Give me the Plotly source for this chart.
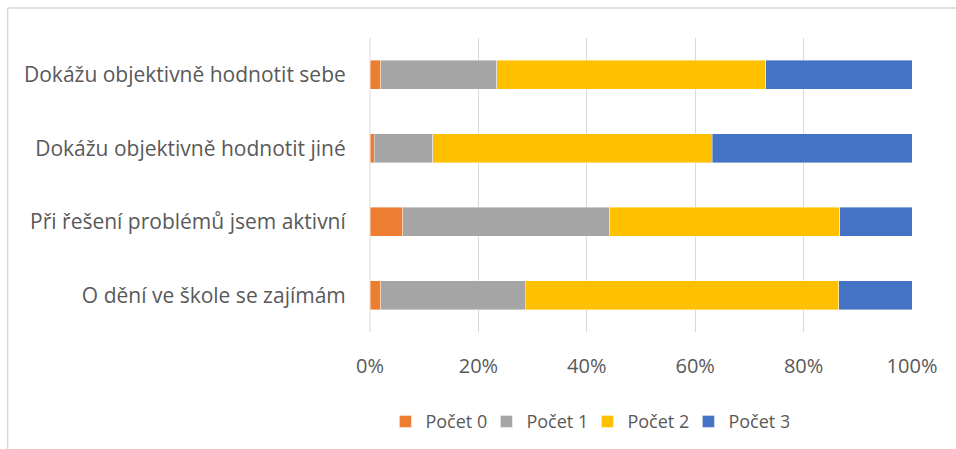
import plotly.graph_objects as go

categories = [
    "Dokážu objektivně hodnotit sebe",
    "Dokážu objektivně hodnotit jiné",
    "Při řešení problémů jsem aktivní",
    "O dění ve škole se zajímám",
]
series_names = ["Počet 0", "Počet 1", "Počet 2", "Počet 3"]
pocet0 = [2.0, 0.8, 6.0, 2.0]
pocet1 = [21.4, 10.8, 38.2, 26.6]
pocet2 = [49.6, 51.5, 42.5, 57.9]
pocet3 = [27.0, 36.9, 13.3, 13.5]
colors = ["#ED7D31", "#A5A5A5", "#FFC000", "#4472C4"]
tick_vals = [0, 20, 40, 60, 80, 100]
tick_text = ["0%", "20%", "40%", "60%", "80%", "100%"]

W, H = 956, 449
L, R, T, B = 369.5, 44.3, 38, 117
pw = W - L - R
ph = H - T - B

fig = go.Figure()
for name, vals, col in zip(series_names, [pocet0, pocet1, pocet2, pocet3], colors):
    fig.add_trace(go.Bar(
        y=categories, x=vals, name=name, orientation="h",
        marker=dict(color=col, line=dict(color="rgba(255,255,255,0.5)", width=0.8)),
        hoverinfo="x+y+name",
    ))

font_family = "Open Sans, Liberation Sans, sans-serif"
fig.update_layout(
    width=W, height=H,
    barmode="stack", bargap=0.6,
    plot_bgcolor="white", paper_bgcolor="white",
    margin=dict(l=L, r=R, t=T, b=B, pad=0, autoexpand=False),
    font=dict(family=font_family, size=20, color="#595959"),
    xaxis=dict(
        range=[0, 100], tickvals=tick_vals, ticktext=tick_text,
        showgrid=True, gridcolor="#D9D9D9", gridwidth=1,
        zeroline=False, showline=False, ticks="", ticklen=0,
        tickfont=dict(size=20, color="#595959"),
        ticklabelstandoff=20,
        fixedrange=True,
    ),
    yaxis=dict(
        autorange="reversed", showgrid=False, zeroline=False,
        showline=False, ticks="outside", ticklen=19, tickcolor="rgba(0,0,0,0)",
        tickfont=dict(size=21, color="#595959"),
        fixedrange=True,
    ),
    legend=dict(
        orientation="h", x=(587 - L) / pw, xanchor="center",
        y=(H - B - 421.7) / ph, yanchor="middle",
        font=dict(size=18, color="#595959"),
        traceorder="normal", itemwidth=30,
        entrywidth=56, entrywidthmode="pixels",
        bgcolor="rgba(0,0,0,0)",
    ),
    showlegend=True,
)

# chart area border (top and left)
x_left = (7 - L) / pw
y_top = (H - B - 8) / ph
fig.add_shape(type="line", xref="paper", yref="paper",
              x0=x_left, x1=(W - L) / pw + 0.01, y0=y_top, y1=y_top,
              line=dict(color="#D9D9D9", width=1.5))
fig.add_shape(type="line", xref="paper", yref="paper",
              x0=x_left, x1=x_left, y0=y_top, y1=-(B + 5) / ph,
              line=dict(color="#D9D9D9", width=1.5))
fig.add_shape(type="line", xref="paper", yref="paper",
              x0=0, x1=0, y0=0, y1=1,
              line=dict(color="#D9D9D9", width=1), layer="below")

fig.write_html(
    "out.html",
    config={"displayModeBar": False},
    post_script="document.body.style.margin='0';document.body.style.overflow='hidden';",
)
